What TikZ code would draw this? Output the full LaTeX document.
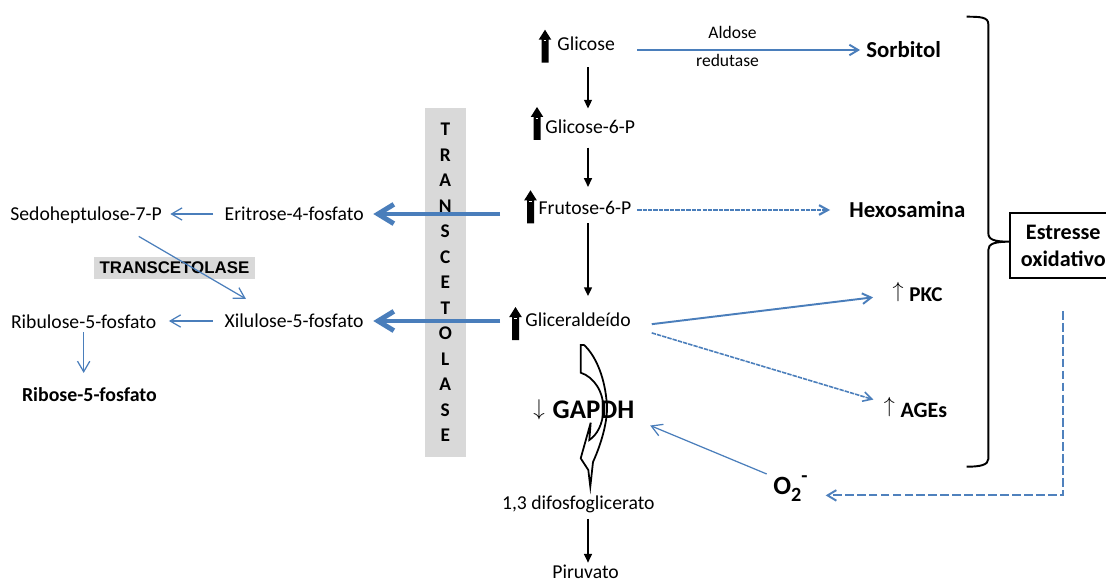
\RequirePackage{fix-cm}
\documentclass[tikz,border=0pt]{standalone}
\usepackage{fontspec}
\setmainfont{Carlito}
\newfontfamily\arialfont{Liberation Sans}
\usetikzlibrary{arrows.meta,calc}

\definecolor{lineblue}{HTML}{4A7EBB}
\definecolor{dashblue}{HTML}{4F81BD}
\definecolor{bargray}{HTML}{D9D9D9}

\newcommand{\myup}{\raisebox{2.4pt}{\fontsize{12.5}{14}\selectfont$\uparrow$}}
\newcommand{\mydown}{\raisebox{1.7pt}{\fontsize{13}{15}\selectfont$\downarrow$}}

\begin{document}
\begin{tikzpicture}[x=0.02cm,y=-0.02cm,
  lbl/.style={inner sep=0pt, anchor=west, font=\fontsize{11.2}{13}\selectfont,
    text height=7.2pt, text depth=0pt},
  blbl/.style={lbl, font=\bfseries\fontsize{13}{15}\selectfont, text height=8.4pt},
  smalllbl/.style={inner sep=0pt, font=\fontsize{10}{12}\selectfont,
    text height=6.4pt, text depth=0pt},
  blk/.style={draw=black, line width=0.9pt, -{Triangle[length=5pt,width=4.5pt]}},
  thinb/.style={draw=lineblue, line width=0.7pt, -{Straight Barb[length=6pt,width=7pt]}},
  medb/.style={draw=lineblue, line width=1.1pt, -{Straight Barb[length=5pt,width=6pt]}},
  dotb/.style={draw=lineblue, line width=1.2pt, dash pattern=on 2.5pt off 0.6pt,
    -{Straight Barb[length=5pt,width=5.5pt]}},
  dashb/.style={draw=dashblue, line width=1.1pt, dash pattern=on 5pt off 1.8pt,
    -{Straight Barb[length=5pt,width=6pt]}},
  thickb/.style={draw=lineblue, line width=2.8pt, -{Straight Barb[length=9pt,width=11pt]}},
  upfat/.pic={
    \fill[black] (-3.5,0) -- (-3.5,-23) -- (-6.3,-23) -- (0,-33) -- (6.3,-23)
      -- (3.5,-23) -- (3.5,0) -- cycle;
    \draw[white, line width=0.5pt] (-1.3,-22) -- (1.3,-22);
  }
]
\path[fill=white, use as bounding box] (0,0) rectangle (1106,581);

% glycolysis column
\node[lbl] (glic) at (557,44) {Glicose};
\node[lbl] (g6p) at (545,127) {Glicose-6-P};
\node[lbl] (f6p) at (538.3,208.5) {Frutose-6-P};
\node[lbl] (gli) at (525,320) {Gliceraldeído};
\node[lbl] (dif) at (501.7,503) {1,3 difosfoglicerato};
\node[lbl] (pir) at (552,572) {Piruvato};

\pic at (545,62.7) {upfat};
\pic at (537,140) {upfat};
\pic at (530.5,223.3) {upfat};
\pic at (515.5,340) {upfat};

\coordinate (col) at (588,0);
\draw[blk, shorten <=9.4pt, shorten >=6.7pt] (col |- glic.south) -- (col |- g6p.north);
\draw[blk, shorten <=7.9pt, shorten >=8.45pt] (col |- g6p.south) -- (col |- f6p.north);
\draw[blk, shorten <=4.6pt, shorten >=9.8pt] (col |- f6p.south) -- (col |- gli.north);
\draw[blk, shorten <=5.2pt, shorten >=1.5pt] (col |- dif.south) -- (col |- pir.north);

% side products
\node[smalllbl] (ald) at (732.5,32.7) {Aldose};
\node[smalllbl] (red) at (727.5,61) {redutase};
\node[blbl] (sorb) at (866,50) {Sorbitol};
\node[blbl] (hex) at (849,210) {Hexosamina};
\node[blbl, font=\bfseries\fontsize{12}{14}\selectfont, text height=7.7pt] (pkc) at (892.2,295) {\myup\hspace{3.3pt}PKC};
\node[blbl, font=\bfseries\fontsize{12.5}{15}\selectfont, text height=8pt] (ages) at (883.5,410) {\myup\hspace{3.3pt}AGEs};

\draw[medb, shorten <=12.5pt, shorten >=3.4pt] (glic.east |- sorb.west) -- (sorb.west);
\draw[dotb, shorten <=3.1pt, shorten >=10.8pt] (f6p.east |- hex.west) -- (hex.west);
\draw[medb, shorten <=11.9pt, shorten >=11pt] (gli.south east) -- (pkc.west);
\draw[dotb, line width=0.9pt, shorten <=12.3pt, shorten >=6pt] (gli.south east) -- (ages.north west);

% GAPDH step
\node[lbl, font=\bfseries\fontsize{15.3}{18}\selectfont, text height=9.9pt] (gapdh) at (533,410) {\mydown\hspace{4.5pt}GAPDH};
\draw[black, line width=1pt, line join=miter]
  (580.7,345) -- (580.7,372.7)
  .. controls (594,377) and (604,392) .. (603.3,410)
  .. controls (603,424) and (597,435) .. (589.3,440)
  -- (590.7,422.7) -- (580.7,458.3) -- (588.3,470) -- (590.3,486.7)
  -- (593,462)
  .. controls (603,440) and (609,415) .. (606.5,400)
  .. controls (604,375) and (595,355) .. (584,345)
  -- cycle;

\node[inner sep=0pt, anchor=base west, font=\bfseries\fontsize{15}{17}\selectfont,
  text height=9.7pt, text depth=0.6pt] (o2) at (773,494)
  {O\raisebox{-4pt}{\fontsize{11.5}{13}\selectfont 2}\raisebox{6.5pt}{\fontsize{11.5}{13}\selectfont -}};
\draw[thinb, shorten <=3.9pt, shorten >=9.6pt] (o2.north west) -- (gapdh.south east);

% oxidative stress
\node[draw=black, line width=1.1pt, minimum width=60.7pt, minimum height=37pt, inner sep=0pt,
  align=center, font=\bfseries\fontsize{12.6}{15.2}\selectfont] (est) at (1063.3,245.8)
  {Estresse\\oxidativo};
\draw[black, line width=1.1pt]
  (966.7,16.7) .. controls (980,16.7) and (988.3,17) .. (988.3,24)
  -- (988.3,233) .. controls (988.3,240) and (995,241.7) .. (1010,241.7)
  .. controls (995,241.7) and (988.3,243.5) .. (988.3,250)
  -- (988.3,459) .. controls (988.3,465) and (980,466.7) .. (966.7,466.7);
\draw[dashb, shorten <=18pt, shorten >=10.1pt] (est.south) |- (o2.south east);

% pentose phosphate branch
\node[fill=bargray, minimum width=23.2pt, minimum height=198.3pt, inner sep=0pt, align=center,
  font=\bfseries\fontsize{11}{14.5}\selectfont] (tk) at (445.3,282.5)
  {T\\R\\A\\N\\S\\C\\E\\T\\O\\L\\A\\S\\E};

\node[lbl] (sed) at (10,214) {Sedoheptulose-7-P};
\node[lbl, anchor=east] (eri) at (364,214) {Eritrose-4-fosfato};
\node[lbl, anchor=east] (xil) at (364,321) {Xilulose-5-fosfato};
\node[lbl] (rib) at (10.7,322.5) {Ribulose-5-fosfato};
\node[blbl, font=\bfseries\fontsize{11.3}{13}\selectfont, text height=7.3pt] (ribo) at (21.7,395) {Ribose-5-fosfato};
\node[fill=bargray, minimum width=91.6pt, minimum height=12.3pt, inner sep=0pt,
  font=\arialfont\bfseries\fontsize{9.6}{11}\selectfont] (tcl) at (174.5,268) {TRANSCETOLASE};

\draw[thickb, shorten <=21.8pt, shorten >=5.3pt] (eri.east -| f6p.west) -- (eri.east);
\draw[thickb, shorten <=14.2pt, shorten >=5.3pt] (xil.east -| gli.west) -- (xil.east);

\draw[thinb, shorten <=6.4pt, shorten >=4.7pt] (eri.west) -- (eri.west -| sed.east);
\draw[thinb, shorten <=6.7pt, shorten >=7pt] (xil.west) -- (xil.west -| rib.east);
\draw[thinb] ($(sed.south east)+(-23.4,15.7)$) -- ($(xil.north west)+(21.6,-15.4)$);
\draw[thinb, shorten <=1.7pt, shorten >=8.7pt] (rib.south) -- (rib.south |- ribo.north);
\end{tikzpicture}
\end{document}
